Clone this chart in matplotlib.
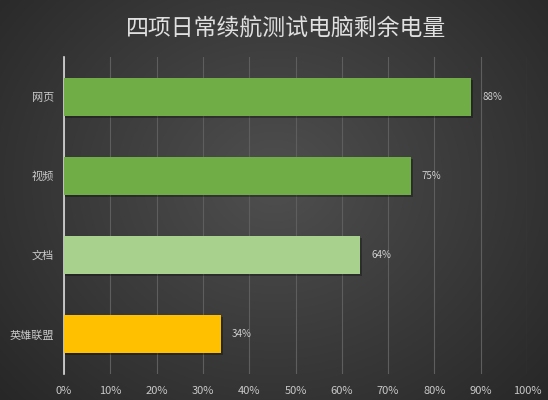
import numpy as np
import matplotlib.pyplot as plt

plt.rcParams['font.family'] = ['Noto Sans CJK SC', 'DejaVu Sans']

# chart data
categories = ['网页', '视频', '文档', '英雄联盟']
values = [88, 75, 64, 34]
bar_colors = ['#70AD47', '#70AD47', '#A9D18E', '#FFC000']
ticks = list(range(0, 101, 10))

fig = plt.figure(figsize=(5.48, 4.0), dpi=100)

# radial dark background
bg = fig.add_axes([0, 0, 1, 1], zorder=-10)
yy, xx = np.mgrid[0:400, 0:548]
r = np.sqrt(((xx - 274) / 380.0) ** 2 + ((yy - 180) / 330.0) ** 2)
shade = np.clip(0.31 - 0.16 * r, 0.13, 0.31)
bg.imshow(np.dstack([shade] * 3), aspect='auto', extent=[0, 1, 0, 1])
bg.axis('off')

ax = fig.add_axes([0.1168, 0.065, 0.845, 0.7925])
ax.patch.set_alpha(0)

ypos = np.arange(len(categories))
# soft shadow behind bars
ax.barh(ypos + 0.025, values, height=0.48, left=0.3, color='black', alpha=0.3, zorder=2)
ax.barh(ypos, values, height=0.48, color=bar_colors, zorder=3)

for y, v in zip(ypos, values):
    ax.text(v + 2.3, y, f'{v}%', va='center', ha='left', fontsize=7, color='#d0d0d0')

ax.set_xlim(0, 100)
ax.set_ylim(3.5, -0.5)
ax.set_xticks(ticks)
ax.set_xticklabels([f'{t}%' for t in ticks], fontsize=8, color='#c8c8c8')
ax.set_yticks(ypos)
ax.set_yticklabels(categories, fontsize=8, color='#c8c8c8')
ax.tick_params(axis='x', length=0, pad=9)
ax.tick_params(axis='y', length=0, pad=7)
ax.xaxis.grid(True, color='#5e5e5e', linewidth=0.8, zorder=0)
ax.set_axisbelow(True)
for s in ['top', 'right', 'bottom']:
    ax.spines[s].set_visible(False)
ax.spines['left'].set_color('#d9d9d9')
ax.spines['left'].set_linewidth(1.2)

fig.text(0.522, 0.9275, '四项日常续航测试电脑剩余电量', ha='center', va='center',
         fontsize=16.5, color='#e0e0e0')

fig.savefig('out.png', dpi=100)
